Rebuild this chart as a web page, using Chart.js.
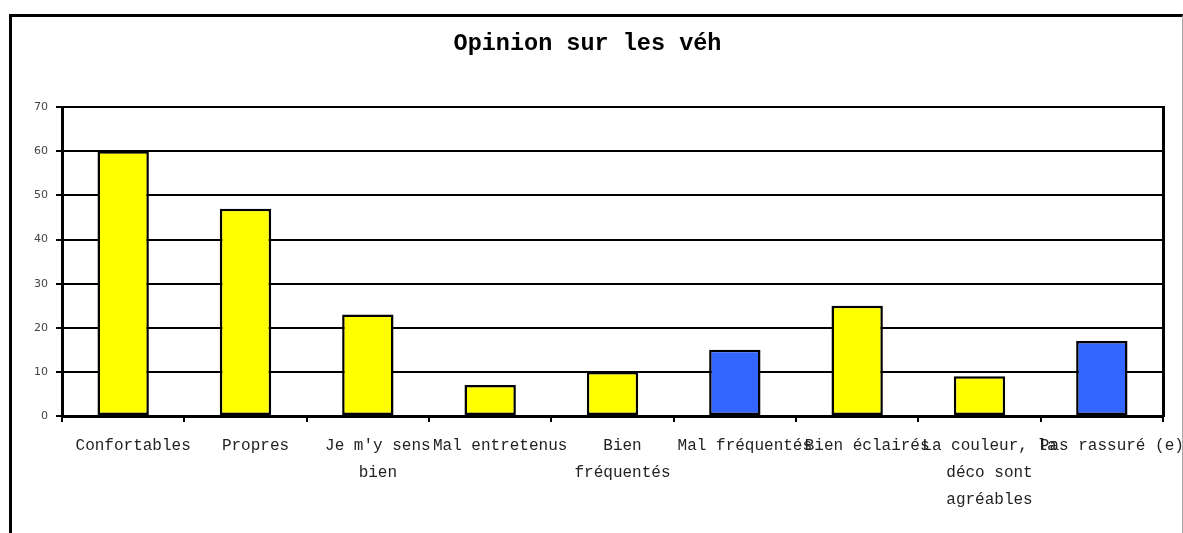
<!DOCTYPE html>
<html>
<head>
<meta charset="utf-8">
<script src="https://cdn.jsdelivr.net/npm/chart.js@4/dist/chart.umd.min.js"></script>
<style>
  body { margin: 0; background: #fff; overflow: hidden; }
  #frame {
    position: absolute;
    left: 9px;
    top: 14px;
    width: 1170px;
    height: 540px;
    border-top: 3px solid #000;
    border-left: 3px solid #000;
    border-right: 1px solid #aaa;
  }
</style>
</head>
<body>
<div id="frame">
  <canvas id="chart" width="1170" height="516"></canvas>
</div>
<script>
const titleText = "Opinion sur les véh";

const categories = [
  "Confortables",
  "Propres",
  ["Je m'y sens", "bien"],
  "Mal entretenus",
  ["Bien", "fréquentés"],
  "Mal fréquentés",
  "Bien éclairés",
  ["La couleur, la", "déco sont", "agréables"],
  "Pas rassuré (e)",
];

const values = [60, 47, 23, 7, 10, 15, 25, 9, 17];

// blue bars are the negative opinions
const negative = [false, false, false, false, false, true, false, false, true];

const yTicks = [0, 10, 20, 30, 40, 50, 60, 70];

const ctx = document.getElementById("chart").getContext("2d");

const data = {
  labels: categories,
  datasets: [
    {
      data: values,
      backgroundColor: negative.map((n) => (n ? "#3366ff" : "#ffff00")),
      borderColor: "#000",
      borderWidth: 2.5,
      borderSkipped: false,
      barPercentage: 0.42,
      categoryPercentage: 1,
    },
  ],
};

const config = {
  type: "bar",
  data: data,
  options: {
    responsive: false,
    animation: false,
    devicePixelRatio: 1,
    layout: {
      padding: { left: 0, right: 19, top: 0, bottom: 0 },
    },
    scales: {
      x: {
        grid: {
          drawOnChartArea: false,
          drawTicks: true,
          tickLength: 6,
          color: "#000",
          lineWidth: 2,
        },
        border: { color: "#000", width: 3 },
        ticks: {
          autoSkip: false,
          maxRotation: 0,
          minRotation: 0,
          padding: 10,
          labelOffset: 10,
          color: "#222",
          font: { family: "'Courier New', 'Liberation Mono', monospace", size: 16, lineHeight: 27 / 16 },
        },
        afterFit: (axis) => {
          axis.height = 117;
          // labels may overhang, like the original
          axis.paddingLeft = 0;
          axis.paddingRight = 0;
        },
      },
      y: {
        min: yTicks[0],
        max: yTicks[yTicks.length - 1],
        afterBuildTicks: (axis) => {
          axis.ticks = yTicks.map((v) => ({ value: v }));
        },
        grid: {
          color: "#000",
          lineWidth: 2,
          tickLength: 6,
        },
        border: { color: "#000", width: 3 },
        ticks: {
          padding: 8,
          color: "#444",
          font: { family: "'DejaVu Sans', Verdana, sans-serif", size: 11 },
        },
        afterFit: (axis) => {
          axis.width = 50;
        },
      },
      yRight: {
        position: "right",
        min: yTicks[0],
        max: yTicks[yTicks.length - 1],
        ticks: { display: false },
        grid: { drawOnChartArea: false, drawTicks: false },
        border: { color: "#000", width: 3 },
        afterFit: (axis) => {
          axis.width = 0;
        },
      },
    },
    plugins: {
      legend: { display: false },
      tooltip: { enabled: false },
      title: {
        display: true,
        text: titleText,
        color: "#000",
        font: { family: "'Courier New', 'Liberation Mono', monospace", size: 23.5, weight: "bold", lineHeight: 1.2 },
        padding: { top: 13, bottom: 49 },
      },
    },
  },
};

new Chart(ctx, config);
</script>
</body>
</html>
